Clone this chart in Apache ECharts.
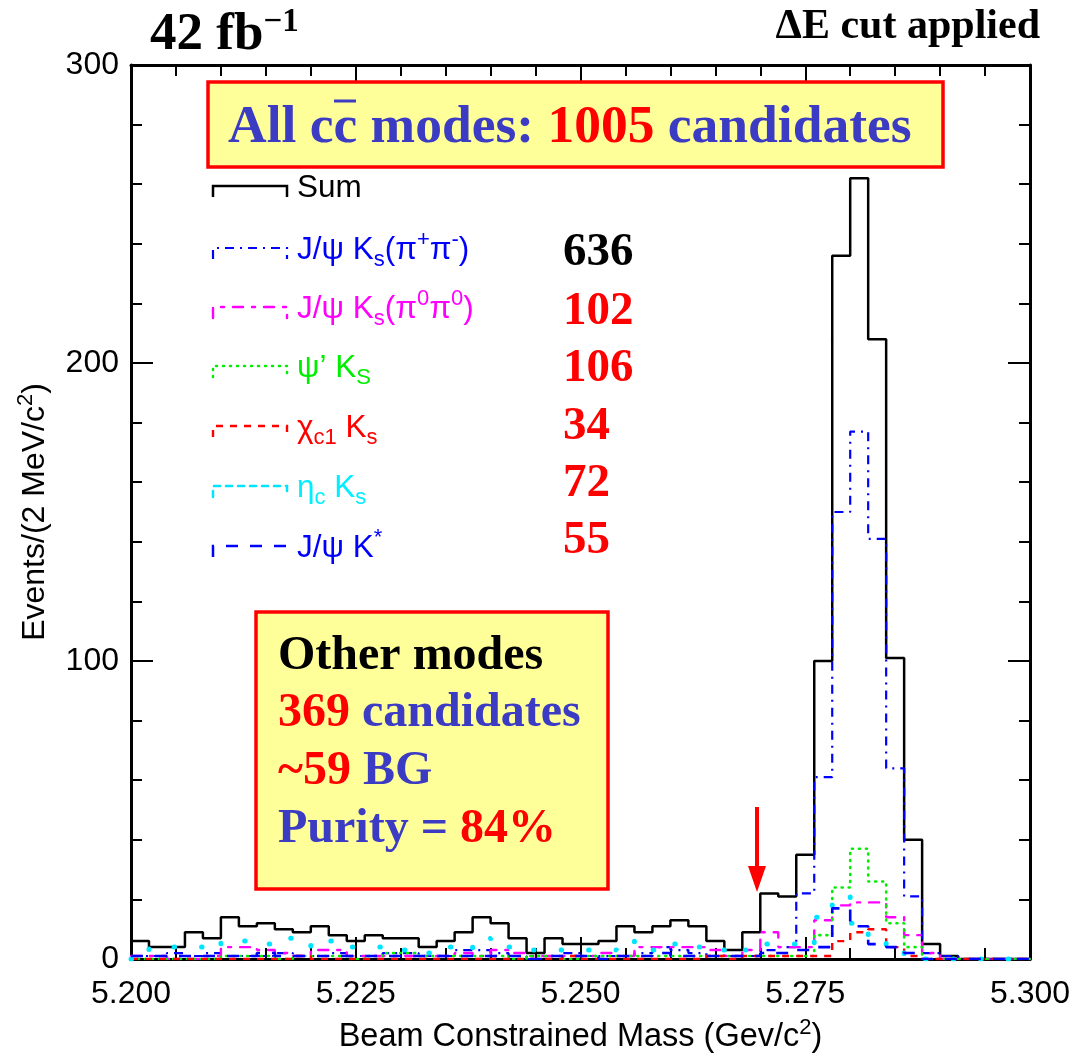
<!DOCTYPE html>
<html>
<head>
<meta charset="utf-8">
<script src="https://cdn.jsdelivr.net/npm/echarts@6/dist/echarts.min.js"></script>
<style>
html,body{margin:0;padding:0;background:#fff;}
#chart{width:1075px;height:1062px;}
</style>
</head>
<body>
<div id="chart"></div>
<script>
// ---------------- DATA ----------------
const xMin = 5.200;
const xMax = 5.300;
const binWidth = 0.002;
const xTickLabels = ['5.200', '5.225', '5.250', '5.275', '5.300'];
const yTickLabels = ['0', '100', '200', '300'];

// counts per 2 MeV bin, from 5.200 to 5.300 (50 bins)
const sumCounts = [6,4,4,9,7,14,11,12,10,9, 11,8,6,8,7,7,4,6,9,14, 12,7,2,7,5,5,6,11,9,11, 13,11,6,3,9,22,21,35,100,236, 262,208,101,40,5,1,0,0,0,0];
const jpsiKsPiPiCounts = [1,1,2,1,2,1,1,1,2,1, 1,2,1,1,2,2,1,1,3,3, 2,1,0,1,2,1,1,1,2,4, 3,2,1,1,1,3,4,22,61,150, 177,141,64,21,2,1,0,0,0,0];
const jpsiKsPi0Pi0Counts = [1,1,0,0,1,4,4,3,2,1, 3,3,1,1,1,1,1,1,2,1, 3,2,1,1,1,1,2,1,4,4, 4,4,3,1,3,9,4,4,13,18, 19,19,14,8,2,0,0,0,0,0];
const psi2sKsCounts = [0,0,0,0,0,1,1,1,0,1, 1,1,0,1,2,2,1,1,1,1, 1,0,1,1,0,1,1,1,1,1, 1,1,1,1,1,1,1,1,8,24, 37,26,12,4,0,0,0,0,0,0];
const chic1KsCounts = [0,0,0,0,0,0,0,0,0,1, 0,0,0,0,0,0,0,0,0,0, 0,0,0,0,1,0,0,0,0,0, 0,0,1,0,1,1,1,1,1,6, 9,10,4,1,0,0,0,0,0,0];
const etacKsCounts = [0,4,4,4,6,5,6,5,7,5, 4,6,4,4,3,3,2,4,3,7, 6,4,3,3,3,3,3,6,4,3, 5,4,3,2,3,5,5,4,14,21, 12,6,3,1,0,0,0,0,0,0];
const jpsiKstarCounts = [1,1,1,1,1,1,1,2,1,1, 1,1,1,1,1,1,1,1,1,1, 1,1,0,1,1,1,0,1,1,2, 1,1,1,1,1,2,2,3,4,17, 11,5,4,2,0,0,0,0,0,0];

const seriesNames = ['Sum', 'J/ψ Ks(π+π-)', 'J/ψ Ks(π0π0)', "ψ' KS", 'χc1 Ks', 'ηc Ks', 'J/ψ K*'];
const modeYields = ['636', '102', '106', '34', '72', '55'];
const totalCandidates = '1005';
const otherCandidates = '369';
const otherBG = '~59';
const otherPurity = '84%';
const luminosityLabel = '42 fb';
// --------------------------------------

const SANS = '"Liberation Sans", Arial, Helvetica, sans-serif';
const SERIF = '"Liberation Serif", "Times New Roman", Times, serif';
const BOXBLUE = '#3b3bc4';
const RED = '#ff0000';

function histData(counts) {
  const d = counts.map((c, i) => [+(xMin + i * binWidth).toFixed(4), c]);
  d.push([xMax, counts[counts.length - 1]]);
  return d;
}

const styles = [
  { color: '#000000', width: 2.5, type: 'solid' },
  { color: '#0000ff', width: 2.2, type: [9, 6, 2, 6] },
  { color: '#ff00ff', width: 2.4, type: [10, 9, 3, 9], cap: 'round' },
  { color: '#00ee00', width: 2.6, type: [1, 6], cap: 'round' },
  { color: '#ff0000', width: 2.4, type: [7, 7] },
  { color: '#00e5ff', width: 5, type: [0.5, 27], cap: 'round' },
  { color: '#0000ff', width: 2.6, type: [12, 12] }
];
const textColors = ['#000000', '#0000ff', '#ff00ff', '#00ee00', '#ff0000', '#00eeff', '#0000ff'];
const countsList = [sumCounts, jpsiKsPiPiCounts, jpsiKsPi0Pi0Counts, psi2sKsCounts, chic1KsCounts, etacKsCounts, jpsiKstarCounts];

const series = countsList.map((c, i) => ({
  name: seriesNames[i],
  type: 'line',
  step: 'end',
  showSymbol: false,
  symbol: 'none',
  data: histData(c),
  lineStyle: { color: styles[i].color, width: styles[i].width, type: styles[i].type, cap: styles[i].cap || 'butt' },
  itemStyle: { color: styles[i].color },
  z: i === 0 ? 3 : 4,
  animation: false
}));

const chart = echarts.init(document.getElementById('chart'), null, { renderer: 'canvas' });

const axisCommon = {
  axisLine: { show: true, onZero: false, lineStyle: { color: '#000', width: 3 } },
  axisTick: { show: true, inside: true, length: 22, lineStyle: { color: '#000', width: 2 } },
  minorTick: { show: true, splitNumber: 5, length: 11, lineStyle: { color: '#000', width: 2 } },
  splitLine: { show: false },
  minorSplitLine: { show: false }
};

// legend rows
const legendRowsY = [186, 248, 307, 366, 426, 486, 546];
const legendRich = (color) => ({
  m: { fontFamily: SANS, fontSize: 31.5, fill: color, lineHeight: 42 },
  sub: { fontFamily: SANS, fontSize: 22, fill: color, verticalAlign: 'bottom', lineHeight: 22 },
  sup: { fontFamily: SANS, fontSize: 22, fill: color, verticalAlign: 'top', lineHeight: 22 }
});
const legendTexts = [
  '{m|Sum}',
  '{m|J/ψ K}{sub|s}{m|(π}{sup|+}{m|π}{sup|-}{m|)}',
  '{m|J/ψ K}{sub|s}{m|(π}{sup|0}{m|π}{sup|0}{m|)}',
  '{m|ψ\u2019 K}{sub|S}',
  '{m|χ}{sub|c1}{m| K}{sub|s}',
  '{m|η}{sub|c}{m| K}{sub|s}',
  '{m|J/ψ K}{sup|*}'
];

const graphic = [];
// Legend samples & texts
legendRowsY.forEach((y, i) => {
  const st = styles[i];
  graphic.push({
    type: 'polyline', silent: true, z: 10,
    shape: { points: [[213, y + 11], [213, y], [287, y], [287, y + 11]] },
    style: { stroke: st.color, lineWidth: Math.min(st.width, 2.5), lineDash: st.type === 'solid' ? null : (i === 5 ? [6, 6] : st.type), fill: null, lineCap: st.cap || 'butt' }
  });
  graphic.push({
    type: 'text', silent: true, z: 10,
    style: {
      x: 297, y: y + 2, text: legendTexts[i], rich: legendRich(textColors[i]),
      fill: textColors[i], align: 'left', verticalAlign: 'middle'
    }
  });
});
// yields
const yieldY = [253, 312, 369, 427, 484, 541];
modeYields.forEach((v, i) => {
  graphic.push({
    type: 'text', silent: true, z: 10,
    style: { x: 563, y: yieldY[i], text: v, fontFamily: SERIF, fontWeight: 'bold', fontSize: 47, fill: i === 0 ? '#000' : RED, align: 'left', verticalAlign: 'middle' }
  });
});
// Top box
graphic.push({
  type: 'rect', silent: true, z: 8,
  shape: { x: 208, y: 82, width: 735, height: 85 },
  style: { fill: '#ffff99', stroke: RED, lineWidth: 3.5 }
});
graphic.push({
  type: 'text', silent: true, z: 9,
  style: {
    x: 228, y: 128, align: 'left', verticalAlign: 'middle',
    text: '{b|All cc modes: }{r|' + totalCandidates + '}{b| candidates}',
    rich: {
      b: { fontFamily: SERIF, fontWeight: 'bold', fontSize: 53.5, fill: BOXBLUE },
      r: { fontFamily: SERIF, fontWeight: 'bold', fontSize: 53.5, fill: RED }
    }
  }
});
graphic.push({
  type: 'line', silent: true, z: 9,
  shape: { x1: 334, y1: 101, x2: 356, y2: 101 },
  style: { stroke: BOXBLUE, lineWidth: 3 }
});
// Other modes box
graphic.push({
  type: 'rect', silent: true, z: 8,
  shape: { x: 256, y: 612, width: 352, height: 277 },
  style: { fill: '#ffff99', stroke: RED, lineWidth: 3.5 }
});
const boxRich = {
  k: { fontFamily: SERIF, fontWeight: 'bold', fontSize: 48, fill: '#000' },
  b: { fontFamily: SERIF, fontWeight: 'bold', fontSize: 48, fill: BOXBLUE },
  r: { fontFamily: SERIF, fontWeight: 'bold', fontSize: 48, fill: RED }
};
const boxLines = [
  '{k|Other modes}',
  '{r|' + otherCandidates + '}{b| candidates}',
  '{r|' + otherBG + '}{b| BG}',
  '{b|Purity = }{r|' + otherPurity + '}'
];
const boxLinesY = [657, 714, 772, 830];
boxLines.forEach((t, i) => {
  graphic.push({
    type: 'text', silent: true, z: 9,
    style: { x: 278, y: boxLinesY[i], text: t, rich: boxRich, align: 'left', verticalAlign: 'middle' }
  });
});
// Titles
graphic.push({
  type: 'text', silent: true, z: 9,
  style: {
    x: 150, y: 35, align: 'left', verticalAlign: 'middle',
    text: '{t|' + luminosityLabel + '}{s|\u22121}',
    rich: {
      t: { fontFamily: SERIF, fontWeight: 'bold', fontSize: 53, fill: '#000', lineHeight: 58 },
      s: { fontFamily: SERIF, fontWeight: 'bold', fontSize: 33, fill: '#000', verticalAlign: 'top', lineHeight: 33 }
    }
  }
});
graphic.push({
  type: 'text', silent: true, z: 9,
  style: { x: 1040, y: 27, text: 'ΔE cut applied', fontFamily: SERIF, fontWeight: 'bold', fontSize: 42, fill: '#000', align: 'right', verticalAlign: 'middle' }
});
// Red arrow
graphic.push({
  type: 'line', silent: true, z: 9,
  shape: { x1: 757, y1: 807, x2: 757, y2: 870 },
  style: { stroke: RED, lineWidth: 4 }
});
graphic.push({
  type: 'polygon', silent: true, z: 9,
  shape: { points: [[748, 866], [766, 866], [757, 892]] },
  style: { fill: RED }
});

const option = {
  animation: false,
  backgroundColor: '#ffffff',
  grid: { left: 131, right: 45, top: 65, bottom: 99, containLabel: false },
  xAxis: [
    Object.assign({}, axisCommon, {
      type: 'value', min: xMin, max: xMax, interval: 0.025, position: 'bottom',
      name: 'Beam Constrained Mass (Gev/c{sup|2})',
      nameLocation: 'middle', nameGap: 58,
      nameTextStyle: {
        fontFamily: SANS, fontSize: 32.5, color: '#000', lineHeight: 40,
        rich: { sup: { fontFamily: SANS, fontSize: 22, color: '#000', verticalAlign: 'top', lineHeight: 22 } }
      },
      axisLabel: {
        show: true, margin: 19, fontFamily: SANS, fontSize: 32, color: '#000',
        formatter: (v) => { const s = v.toFixed(3); return xTickLabels.indexOf(s) >= 0 ? s : ''; }
      }
    }),
    Object.assign({}, axisCommon, {
      type: 'value', min: xMin, max: xMax, interval: 0.025, position: 'top',
      axisLabel: { show: false }
    })
  ],
  yAxis: [
    Object.assign({}, axisCommon, {
      type: 'value', min: 0, max: 300, interval: 100, position: 'left',
      name: 'Events/(2 MeV/c{sup|2})',
      nameLocation: 'middle', nameGap: 75, nameRotate: 90,
      nameTextStyle: {
        fontFamily: SANS, fontSize: 32, color: '#000', lineHeight: 40,
        rich: { sup: { fontFamily: SANS, fontSize: 22, color: '#000', verticalAlign: 'top', lineHeight: 22 } }
      },
      axisLabel: {
        show: true, margin: 12, fontFamily: SANS, fontSize: 32, color: '#000',
        formatter: (v) => { const s = String(Math.round(v)); return yTickLabels.indexOf(s) >= 0 ? s : ''; }
      }
    }),
    Object.assign({}, axisCommon, {
      type: 'value', min: 0, max: 300, interval: 100, position: 'right',
      axisLabel: { show: false }
    })
  ],
  series: series,
  graphic: graphic
};

chart.setOption(option);
</script>
</body>
</html>
